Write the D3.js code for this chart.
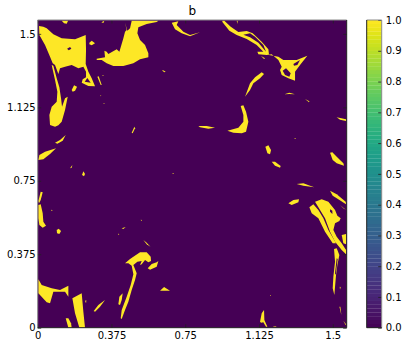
<!DOCTYPE html>
<html><head><meta charset="utf-8">
<script src="https://cdn.jsdelivr.net/npm/d3@7"></script>
<style>html,body{margin:0;padding:0;background:#fff}svg{display:block}text{font-family:"DejaVu Sans",sans-serif;fill:#000}</style>
</head><body><svg id="c" width="407" height="348"></svg>
<script>
// Regions where the field b equals 1, traced as contours in sampling-grid cells,
// listed per quadrant of the field (cols rel. to the quadrant, rows from the top).
const blobsTL = [
[[117,78],[130,80],[140,85],[160,103],[185,115],[225,118],[257,105],[258,150],[257,192],[265,215],[275,235],[285,259],[265,258],[245,248],[248,238],[258,232],[258,215],[250,200],[235,205],[215,195],[195,200],[180,205],[175,222],[165,195],[158,190],[150,170],[135,135],[118,105]],
[[155,195],[160,197],[170,235],[178,262],[183,295],[186,320],[195,295],[203,290],[195,330],[185,365],[175,376],[165,380],[150,375],[148,345],[155,320],[170,305],[172,275],[165,240]],
[[268,128],[275,122],[285,130],[275,136],[268,133]],
[[215,270],[222,256],[231,260],[225,272],[218,275]],
[[292,230],[296,229],[305,255],[302,255]],
[[305,226],[311,225],[310,227]],
[[300,286],[304,287],[302,289]],
[[310,309],[314,310],[312,312]],
[[185,62],[204,62],[200,71],[192,70]],
[[304,67],[313,62],[310,69]],
[[395,62],[475,62],[470,66],[440,72],[415,82],[412,100],[420,120],[435,135],[445,160],[445,172],[420,178],[400,190],[370,198],[340,198],[320,190],[305,180],[290,180],[290,176],[315,172],[313,152],[320,155],[325,162],[350,148],[358,155],[370,115],[375,95],[380,90],[375,68],[382,92],[390,85]],
[[488,210],[497,215],[493,217],[487,212]],
[[395,398],[403,380],[405,385],[398,400]],
[[595,378],[620,378],[645,383],[625,386],[600,382]],
[[165,428],[180,420],[197,405],[188,422],[172,431]],
[[115,480],[118,465],[135,455],[168,445],[150,462],[130,478]],
[[210,505],[217,495],[215,503]],
[[246,525],[250,514],[255,522],[252,529]],
[[517,519],[522,520],[519,522]],
[[515,68],[535,64],[530,75],[550,95],[570,105],[600,97],[570,109],[545,100],[525,88]]
];
const blobsTR = [
[[67,62],[73,62],[92,80],[115,96],[140,93],[158,100],[185,125],[205,148],[207,165],[235,170],[250,180],[290,180],[322,167],[300,195],[285,215],[285,242],[265,235],[245,225],[240,210],[245,200],[235,180],[215,163],[200,165],[175,163],[172,155],[190,155],[170,135],[140,117],[110,105],[88,92],[67,66]],
[[183,168],[195,175],[192,177]],
[[110,62],[113,62],[112,72]],
[[135,290],[150,250],[165,232],[185,217],[192,222],[180,235],[160,250],[150,270]],
[[253,283],[268,278],[285,283],[268,282]],
[[315,297],[328,304],[327,307]],
[[122,318],[130,316],[138,335],[145,365],[138,395],[125,400],[100,398],[82,392],[115,383],[130,365],[130,345]],
[[410,352],[438,358],[438,363],[420,359]],
[[283,414],[288,415],[285,417]],
[[196,440],[205,436],[213,450],[210,463],[202,460]],
[[215,485],[225,485],[242,498],[240,503],[225,497]],
[[390,458],[397,457],[410,470],[430,490],[432,497],[410,490],[398,480]]
];
const blobsBL = [
[[115,78],[122,50],[128,52],[122,75],[117,85]],
[[115,90],[122,88],[128,115],[130,140],[138,152],[128,158],[118,150],[115,130]],
[[153,104],[158,106],[155,108]],
[[170,165],[176,161],[183,168],[178,177],[171,175]],
[[422,134],[426,135],[424,138]],
[[365,160],[377,156],[370,162]],
[[354,176],[358,177],[355,180]],
[[430,195],[440,203],[451,215],[440,208]],
[[375,265],[390,252],[420,232],[440,232],[452,245],[453,258],[445,262],[435,255],[425,268],[420,270],[425,258],[412,260],[400,270],[410,295],[405,315],[395,345],[385,380],[375,405],[365,432],[362,430],[365,405],[380,365],[392,330],[400,298],[395,272],[385,265]],
[[443,280],[455,267],[470,262],[475,258],[470,275],[450,284]],
[[480,347],[492,336],[510,347]],
[[355,388],[358,365],[368,355],[365,375],[360,390]],
[[281,408],[295,390],[315,375],[300,395],[285,410]],
[[255,377],[259,376],[258,385]],
[[115,313],[125,330],[155,340],[180,345],[205,332],[205,365],[195,350],[160,350],[150,385],[140,382],[115,355]],
[[217,370],[245,355],[250,410],[255,458],[238,458],[225,415]],
[[197,430],[205,430],[213,445],[215,458],[205,458]]
];
const blobsBR = [
[[290,27],[310,25],[330,32],[343,37],[310,32]],
[[265,85],[280,75],[297,73],[295,82],[275,90]],
[[390,47],[410,58],[437,80],[438,88],[410,70],[398,62]],
[[420,90],[438,105],[430,100]],
[[345,80],[365,73],[385,80],[405,105],[412,122],[422,130],[418,138],[405,145],[400,165],[410,185],[425,205],[438,225],[438,238],[425,225],[405,200],[390,170],[375,130],[360,105]],
[[328,97],[340,88],[355,105],[370,130],[385,165],[408,205],[398,205],[375,170],[355,130],[335,115]],
[[425,180],[438,177],[438,208],[430,205]],
[[402,222],[410,220],[418,240],[412,270],[408,300],[405,335],[403,360],[398,340],[400,305],[405,260]],
[[419,335],[422,336],[420,344]],
[[418,395],[421,395],[424,420]],
[[430,437],[438,448],[437,451]],
[[210,360],[213,361],[211,364]],
[[180,440],[185,415],[192,405],[193,435],[202,455],[198,455],[190,442],[183,443]],
[[218,455],[230,454],[225,457]]
];
const holesTL = [
[[201,146],[210,141],[214,146],[206,151]],
[[262,234],[254,245],[272,248]]
];
const holesTR = [
[[130,104],[150,100],[165,110],[190,135],[198,155],[175,128],[150,112]],
[[280,192],[300,180],[292,195],[282,197]],
[[248,212],[258,205],[272,220],[268,230],[255,225]]
];
const holesBR = [
[[390,103],[397,107],[397,117],[390,110]],
[[410,250],[413,252],[407,300],[405,295]]
];
const xTicks = [0,0.375,0.75,1.125,1.5];
const xLabels = ["0","0.375","0.75","1.125","1.5"];
const yTicks = [0,0.375,0.75,1.125,1.5];
const yLabels = ["0","0.375","0.75","1.125","1.5"];
const cbarTicks = [0,0.1,0.2,0.3,0.4,0.5,0.6,0.7,0.8,0.9,1];
const title = "b";
const domainMax = Math.PI/2;

const L=37.7,R=346.7,T=20,B=327.7, CL=366.7,CR=381.7;
const x=d3.scaleLinear().domain([0,domainMax]).range([L,R]);
const y=d3.scaleLinear().domain([0,domainMax]).range([B,T]);
const color=d3.interpolateViridis;
const svg=d3.select("#c");

// grid cell -> field value coordinates
const gx=d3.scaleLinear().domain([113,1040]).range([0,domainMax]);
const gy=d3.scaleLinear().domain([983,60]).range([0,domainMax]);
const place=(list,dc,dr)=>list.map(p=>p.map(([c,r])=>[gx(c+dc),gy(r+dr)]));
const blobs=[...place(blobsTL,0,0),...place(blobsTR,600,0),...place(blobsBL,0,525),...place(blobsBR,600,525)];
const holes=[...place(holesTL,0,0),...place(holesTR,600,0),...place(holesBR,600,525)];

const defs=svg.append("defs");
defs.append("clipPath").attr("id","pl").append("rect")
  .attr("x",L).attr("y",T).attr("width",R-L).attr("height",B-T);
defs.append("filter").attr("id","soft").attr("x","-5%").attr("y","-5%").attr("width","110%").attr("height","110%")
  .append("feGaussianBlur").attr("stdDeviation",0.35);
const plot=svg.append("g").attr("clip-path","url(#pl)").append("g").attr("filter","url(#soft)");
plot.append("rect").attr("x",L-3).attr("y",T-3).attr("width",R-L+6).attr("height",B-T+6).attr("fill",color(0));
const line=d3.line().x(d=>x(d[0])).y(d=>y(d[1])).curve(d3.curveLinearClosed);
plot.selectAll("path.b").data(blobs).join("path").attr("class","b").attr("d",line).attr("fill",color(1));
plot.selectAll("path.h").data(holes).join("path").attr("class","h").attr("d",line).attr("fill",color(0));

// frame + axes
const dark="#222", gray="#8a8a8a";
const style=g=>{g.select(".domain").remove();g.selectAll("line").attr("stroke",dark).attr("stroke-width",0.8);
  g.selectAll("text").attr("font-size",10).attr("font-family",'"DejaVu Sans",sans-serif').attr("fill","#000");};
svg.append("g").attr("transform",`translate(0,${B})`)
  .call(d3.axisBottom(x).tickValues(xTicks).tickFormat((d,i)=>xLabels[i]).tickSize(-3.5).tickPadding(4)).call(style);
svg.append("g").attr("transform",`translate(0,${T})`)
  .call(d3.axisTop(x).tickValues(xTicks).tickFormat("").tickSize(-3.5)).call(style);
svg.append("g").attr("transform",`translate(${L},0)`)
  .call(d3.axisLeft(y).tickValues(yTicks).tickFormat((d,i)=>yLabels[i]).tickSize(-3.5).tickPadding(2)).call(style);
svg.append("g").attr("transform",`translate(${R},0)`)
  .call(d3.axisRight(y).tickValues(yTicks).tickFormat("").tickSize(-3.5)).call(style);
const edge=(g,x1,y1,x2,y2,c)=>g.append("line").attr("x1",x1).attr("y1",y1).attr("x2",x2).attr("y2",y2).attr("stroke",c).attr("stroke-width",1);
edge(svg,L,T,R,T,gray); edge(svg,L,T,L,B,gray); edge(svg,R,T,R,B,dark); edge(svg,L,B,R,B,dark);
svg.append("text").attr("x",(L+R)/2).attr("y",14.5).attr("text-anchor","middle").attr("font-size",12).text(title);

// colorbar
const cy=d3.scaleLinear().domain([0,1]).range([B,T]);
const nBands=80;
const bands=d3.range(nBands).map(i=>i/nBands);
svg.selectAll("rect.cb").data(bands).join("rect").attr("class","cb")
  .attr("x",CL).attr("width",CR-CL).attr("y",d=>cy(d+1/nBands)).attr("height",(B-T)/nBands+0.2)
  .attr("fill",d=>color(d+0.5/nBands));
svg.append("g").attr("transform",`translate(${CR},0)`)
  .call(d3.axisRight(cy).tickValues(cbarTicks).tickFormat(d3.format(".1f")).tickSize(-3.5).tickPadding(4)).call(style);
edge(svg,CL,T,CR,T,gray); edge(svg,CR,T,CR,B,gray); edge(svg,CL,T,CL,B,dark); edge(svg,CL,B,CR,B,dark);
</script></body></html>
